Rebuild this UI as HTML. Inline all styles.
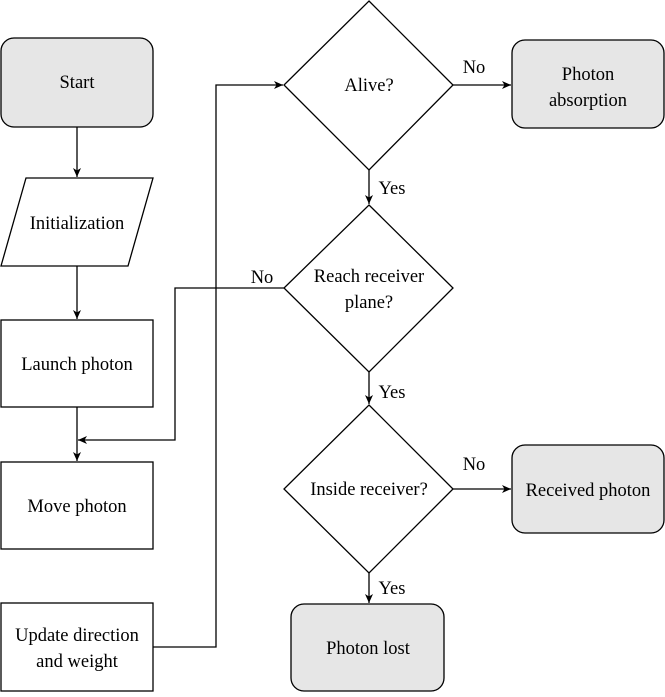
<!DOCTYPE html>
<html><head><meta charset="utf-8"><style>body{margin:0;background:#fff} svg text{font-family:"Liberation Serif","DejaVu Serif","Noto Serif CJK SC",serif;font-size:18.5px}</style></head><body>
<svg width="665" height="692" viewBox="0 0 665 692" xmlns="http://www.w3.org/2000/svg" style="font-family:'Liberation Serif','DejaVu Serif','Noto Serif CJK SC',serif" fill="#000">
<defs><marker id="a" markerWidth="10" markerHeight="10" refX="9" refY="5" orient="auto" markerUnits="userSpaceOnUse"><path d="M0,1 L9,5 L0,9 L2.5,5 Z" fill="#000"/></marker></defs>
<g stroke="#000" stroke-width="1.3">
<rect x="1" y="38" width="152" height="89" rx="13" fill="#e6e6e6"/>
<polygon points="26,178 153,178 128,266 1,266" fill="#fff"/>
<rect x="1" y="320" width="152" height="87" fill="#fff"/>
<rect x="1" y="462" width="152" height="87" fill="#fff"/>
<rect x="1" y="603" width="152" height="88" fill="#fff"/>
<polygon points="369,1 453,85 369,170 284,85" fill="#fff"/>
<polygon points="369,205 453,288 369,372 284,288" fill="#fff"/>
<polygon points="369,405 453,489 369,573 284,489" fill="#fff"/>
<rect x="512" y="40" width="152" height="88" rx="13" fill="#e6e6e6"/>
<rect x="512" y="445" width="152" height="88" rx="13" fill="#e6e6e6"/>
<rect x="291" y="604" width="153" height="87" rx="13" fill="#e6e6e6"/>
<g fill="none" marker-end="url(#a)">
<path d="M77,127 V177"/><path d="M77,266 V319"/><path d="M77,407 V461"/>
<path d="M153,647 H216 V85 H283"/>
<path d="M453,85 H511"/><path d="M369,170 V204"/>
<path d="M284,288 H175 V440 H78"/>
<path d="M369,372 V404"/><path d="M453,489 H511"/><path d="M369,573 V603"/>
</g></g>
<g text-anchor="middle">
<text x="77" y="88">Start</text>
<text x="77" y="229">Initialization</text>
<text x="77" y="370">Launch photon</text>
<text x="77" y="512">Move photon</text>
<text x="77" y="641">Update direction</text>
<text x="77" y="667">and weight</text>
<text x="369" y="91">Alive?</text>
<text x="369" y="282">Reach receiver</text>
<text x="369" y="308">plane?</text>
<text x="369" y="495">Inside receiver?</text>
<text x="588" y="80">Photon</text>
<text x="588" y="106">absorption</text>
<text x="588" y="496">Received photon</text>
<text x="368" y="654">Photon lost</text>
<text x="474" y="73">No</text><text x="474" y="470">No</text><text x="262" y="283">No</text>
<text x="392" y="194">Yes</text><text x="392" y="398">Yes</text><text x="392" y="594">Yes</text>
</g>
</svg>
</body></html>
